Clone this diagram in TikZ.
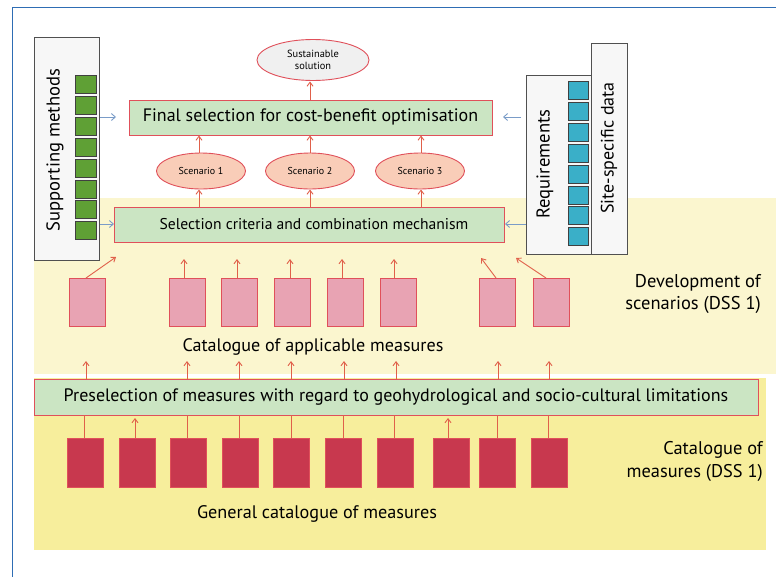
\documentclass[tikz,border=0pt]{standalone}
\usepackage{fontspec}
\setmainfont{PT Sans}
\usetikzlibrary{shapes.geometric,arrows.meta}
\definecolor{frameblue}{HTML}{2E6DB4}
\definecolor{yelA}{HTML}{FBF6CF}
\definecolor{yelB}{HTML}{F7EE9C}
\definecolor{boxgreen}{HTML}{CBE5C3}
\definecolor{redline}{HTML}{E0505A}
\definecolor{pinkbox}{HTML}{E8A3B3}
\definecolor{darkbox}{HTML}{C8384E}
\definecolor{peach}{HTML}{F9CDB8}
\definecolor{arrred}{HTML}{E0604A}
\definecolor{arrblue}{HTML}{7A9CC8}
\definecolor{sqgreen}{HTML}{5FA035}
\definecolor{sqblue}{HTML}{3AAFC8}
\definecolor{sidegray}{HTML}{505050}
\tikzset{
  greenbox/.style={draw=redline,fill=boxgreen,line width=1pt,inner sep=0pt,anchor=north west},
  pinkm/.style={draw=redline,fill=pinkbox,line width=0.9pt,minimum width=36pt,minimum height=48pt,inner sep=0pt,anchor=north west},
  darkm/.style={draw=redline,fill=darkbox,line width=0.9pt,minimum width=36pt,minimum height=49pt,inner sep=0pt,anchor=north west},
  scen/.style={ellipse,draw=redline,fill=peach,line width=0.9pt,minimum width=89pt,minimum height=36pt,inner sep=0pt,font=\fontsize{10}{11}\selectfont},
  redarr/.style={draw=arrred,line width=0.9pt,-{Straight Barb[length=4pt,width=6pt]}},
  redln/.style={draw=arrred,line width=0.9pt},
  bluearr/.style={draw=arrblue,line width=0.9pt,-{Straight Barb[length=4pt,width=7pt]}},
  sidebox/.style={draw=sidegray,fill=gray!6,line width=1pt,inner sep=0pt,anchor=north west},
  gsq/.style={draw=black!75,fill=sqgreen,line width=0.8pt,minimum width=21pt,minimum height=18pt,inner sep=0pt,anchor=north west},
  bsq/.style={draw=black!75,fill=sqblue,line width=0.8pt,minimum width=20pt,minimum height=18pt,inner sep=0pt,anchor=north west},
  lbl/.style={inner sep=0pt,font=\fontsize{18}{21}\selectfont}
}
\begin{document}
\begin{tikzpicture}[x=1pt,y=-1pt]
\useasboundingbox (0,0) rectangle (776,576);
\fill[white] (0,0) rectangle (776,576);
% backgrounds
\fill[yelA] (34,198) rectangle (776,374);
\fill[yelB] (34,378) rectangle (766,550);
% frame
\draw[frameblue,line width=1.2pt] (12.5,580) -- (12.5,7.5) -- (780,7.5);
% side boxes
\node[sidebox,minimum width=65pt,minimum height=223pt] (supp) at (34,37) {};
\node[rotate=90,lbl,font=\fontsize{18.6}{21}\selectfont] (supptxt) at (55,150) {Supporting methods};
\foreach \i in {0,...,7}{
  \node[gsq] (g\i) at (75,{75+\i*20.9}) {};
}
\node[sidebox,minimum width=65pt,minimum height=179pt] (req) at (526,75) {};
\node[sidebox,minimum width=36pt,minimum height=211pt] (site) at (591,43) {};
\node[rotate=90,lbl,font=\fontsize{18.6}{21}\selectfont] (reqtxt) at (545,164) {Requirements};
\node[rotate=90,lbl,font=\fontsize{18}{21}\selectfont] (sitetxt) at (609,148) {Site-specific data};
\foreach \i in {0,...,7}{
  \node[bsq] (b\i) at (568,{81+\i*20.9}) {};
}
% top ellipse
\node[ellipse,draw=redline,fill=gray!12,line width=0.9pt,minimum width=112pt,minimum height=41pt,inner sep=0pt,align=center,font=\fontsize{10.4}{12.5}\selectfont] (sust) at (313,60) {Sustainable\\solution};
% final selection
\node[greenbox,minimum width=363pt,minimum height=35pt] (final) at (129,100) {};
\node[lbl] (finaltxt) at (310.5,117) {Final selection for cost-benefit optimisation};
% scenarios
\node[scen] (s1) at (201,171) {Scenario 1};
\node[scen] (s2) at (310,171) {Scenario 2};
\node[scen] (s3) at (420,171) {Scenario 3};
% selection criteria
\node[greenbox,minimum width=390pt,minimum height=35pt] (sel) at (114,207) {};
\node[lbl,font=\fontsize{15.6}{18}\selectfont] (seltxt) at (314,224.5) {Selection criteria and combination mechanism};
% arrows in the top
\draw[redarr] (310,100) -- (310,81.5);
\foreach \s/\x in {s1/199,s2/310,s3/421}{
  \draw[redarr] (\x,207) -- (\x,189.5);
  \draw[redarr] (\x,152.5) -- (\x,135.5);
}
% blue arrows
\coordinate (bl1) at (100,117);
\coordinate (bl2) at (99.5,224);
\coordinate (br1) at (521,117);
\coordinate (br2) at (525.5,224);
\draw[bluearr] (bl1) -- (116,117);
\draw[bluearr] (bl2) -- (sel.west |- bl2);
\draw[bluearr] (br1) -- (503,117);
\draw[bluearr] (br2) -- (sel.east |- br2);
% applicable measures
\foreach \n/\x in {1/69,2/169,3/221,4/274,5/327,6/380,7/479,8/533}{
  \node[pinkm] (a\n) at (\x,278) {};
}
\coordinate (t1) at (116,257);
\draw[redarr] (86,278) -- (t1);
\foreach \n/\x in {2/184,3/237,4/290,5/342,6/394}{
  \draw[redarr] (\x,278) -- (\x,259);
}
\draw[redarr] (496,278) -- (481,258);
\draw[redarr] (546,278) -- (516,258);
\node[lbl,font=\fontsize{18.1}{21}\selectfont] (applic) at (313,347) {Catalogue of applicable measures};
\node[lbl,align=right,anchor=east,font=\fontsize{18.5}{22}\selectfont] (dev) at (761,294) {Development of\\scenarios (DSS 1)};
% preselection
\node[greenbox,minimum width=724pt,minimum height=36pt] (pre) at (34,379) {};
\node[lbl] (pretxt) at (396,397) {Preselection of measures with regard to geohydrological and socio-cultural limitations};
\foreach \x in {86,187,239,291,344,396,498,549}{
  \draw[redarr] (\x,379) -- (\x,361);
}
% general catalogue
\foreach \n/\x in {1/67,2/119,3/170,4/222,5/273,6/325,7/377,8/433,9/479,10/531}{
  \node[darkm] (d\n) at (\x,438) {};
}
\foreach \x in {84,187,239,291,343,394,497,548}{
  \draw[redln] (\x,438) -- (\x,415);
}
\draw[redarr] (135,438) -- (135,418);
\draw[redarr] (448,438) -- (448,418);
\node[lbl,font=\fontsize{18.2}{21}\selectfont] (gen) at (317,514) {General catalogue of measures};
\node[lbl,align=right,anchor=east,font=\fontsize{18.4}{23}\selectfont] (cat) at (763,461) {Catalogue of\\measures (DSS 1)};
\end{tikzpicture}
\end{document}
